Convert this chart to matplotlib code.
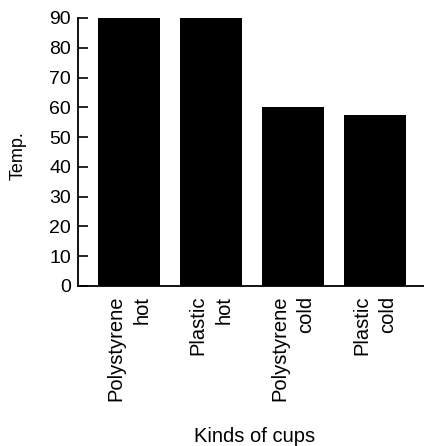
import matplotlib
matplotlib.use("Agg")
import matplotlib.pyplot as plt

categories = ["Polystyrene\nhot", "Plastic\nhot", "Polystyrene\ncold", "Plastic\ncold"]
temps = [90, 90, 60, 57.5]
yticks = [0, 10, 20, 30, 40, 50, 60, 70, 80, 90]

plt.rcParams['font.family'] = ['Liberation Sans', 'DejaVu Sans']

fig = plt.figure(figsize=(4.24, 4.46), dpi=100)
ax = fig.add_axes([78/424, 1 - 286/446, 1 - 78/424, (286 - 18)/446])

x = list(range(len(categories)))
ax.bar(x, temps, width=0.75, color='black')

ax.set_xlim(-0.62, 3.6)
ax.set_ylim(0, 90)
ax.set_yticks(yticks)
ax.set_yticklabels([str(v) for v in yticks], fontsize=14)
ax.tick_params(axis='y', direction='in', length=7, width=1.2, pad=5)

ax.set_xticks(x)
ax.set_xticklabels(categories, rotation=90, fontsize=14.5, ha='center', va='top',
                   multialignment='right', linespacing=1.45)
ax.tick_params(axis='x', length=0, pad=7)

for s in ['top', 'right']:
    ax.spines[s].set_visible(False)
for s in ['left', 'bottom']:
    ax.spines[s].set_linewidth(1.3)

fig.text(18/424, 1 - 156/446, "Temp.", fontsize=13, rotation=90, ha='center', va='center')
fig.text(255/424, 1 - 436/446, "Kinds of cups", fontsize=14.5, ha='center', va='center')

fig.savefig("out.png", dpi=100)
